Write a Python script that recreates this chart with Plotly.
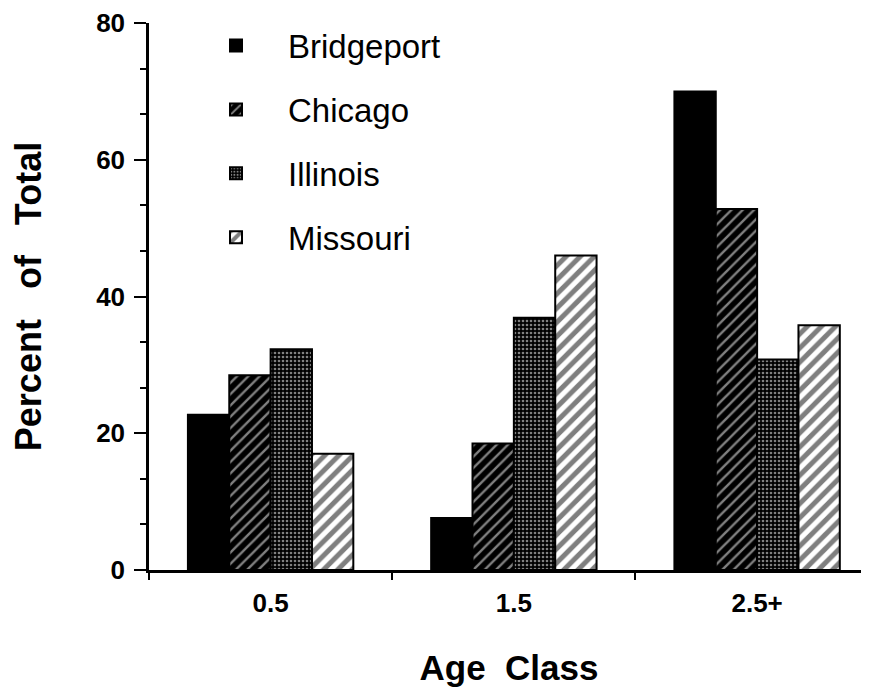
import plotly.graph_objects as go

age_classes = ["0.5", "1.5", "2.5+"]
bridgeport = [22.7, 7.6, 70.0]
chicago = [28.5, 18.5, 52.8]
illinois = [32.3, 36.9, 30.8]
missouri = [17.0, 46.0, 35.8]

series = [
    ("Bridgeport", bridgeport, dict(shape="", bgcolor="black", fgcolor="black")),
    ("Chicago", chicago, dict(shape="/", bgcolor="black", fgcolor="white", size=8, solidity=0.3)),
    ("Illinois", illinois, dict(shape=".", bgcolor="black", fgcolor="white", size=4, solidity=0.35)),
    ("Missouri", missouri, dict(shape="/", bgcolor="white", fgcolor="black", size=10, solidity=0.5)),
]

fig = go.Figure()
for i, (name, vals, pat) in enumerate(series):
    fig.add_trace(go.Bar(
        x=age_classes, y=vals, name=name, legendgroup=f"g{i}",
        marker=dict(color="black", pattern=pat, line=dict(color="black", width=2)),
    ))

FONT = "Liberation Sans, Arial"

fig.update_layout(
    width=861, height=679,
    margin=dict(l=141, r=0, t=12, b=117),
    paper_bgcolor="white", plot_bgcolor="white",
    barmode="group", bargap=0.32, bargroupgap=0,
    showlegend=True,
    legend=dict(x=0.0486, y=1.01, xanchor="left", yanchor="top",
                itemwidth=94,
                font=dict(family=FONT, size=33, color="black"),
                tracegroupgap=18, bgcolor="rgba(0,0,0,0)"),
    font=dict(family=FONT, color="black"),
)

fig.update_xaxes(
    type="category", range=[-0.5, 2.46],
    showline=True, linecolor="black", linewidth=2.5,
    ticks="outside", tickson="boundaries", ticklen=7, tickwidth=2, tickcolor="black",
    tickfont=dict(family=FONT, size=26, color="black", weight="bold"),
    ticklabelstandoff=8,
    showgrid=False, zeroline=False,
    title=dict(text="Age  Class", font=dict(family=FONT, size=35, weight="bold"),
               standoff=40),
)

fig.update_yaxes(
    range=[0, 80], tickvals=[0, 20, 40, 60, 80],
    showline=True, linecolor="black", linewidth=2.5,
    ticks="outside", ticklen=12, tickwidth=2, tickcolor="black",
    minor=dict(dtick=20/3, tick0=0, ticks="outside", ticklen=6, tickwidth=2, tickcolor="black"),
    tickfont=dict(family=FONT, size=26, color="black", weight="bold"),
    ticklabelstandoff=4, ticklabeloverflow="allow",
    showgrid=False, zeroline=False,
    title=dict(text="Percent   of   Total", font=dict(family=FONT, size=36, weight="bold"),
               standoff=46),
)

fig.write_html("out.html")
